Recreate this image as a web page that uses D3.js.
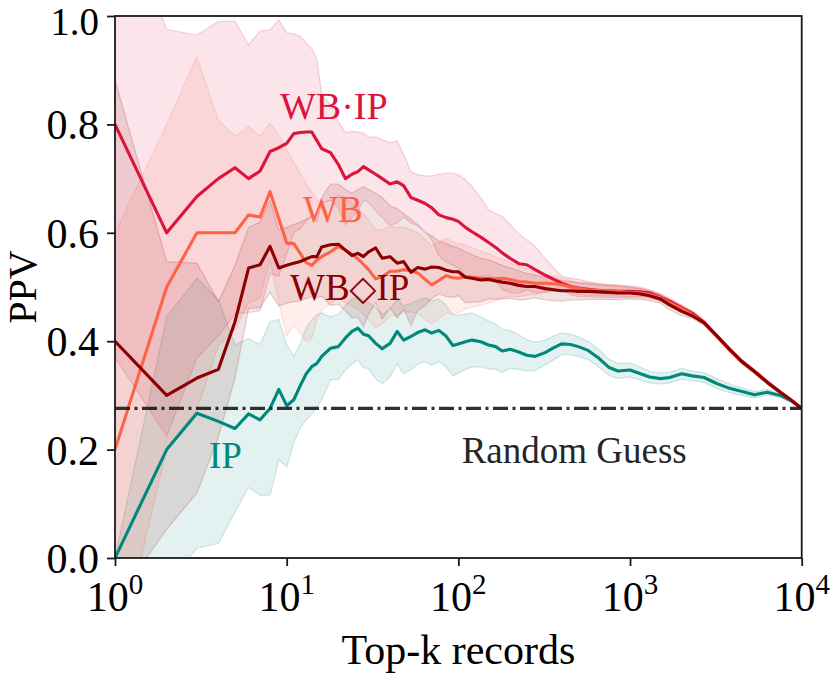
<!DOCTYPE html>
<html><head><meta charset="utf-8">
<script src="https://cdn.jsdelivr.net/npm/d3@7"></script>
<style>
html,body{margin:0;padding:0;background:#fff;}
svg{display:block;}
text{font-family:"Liberation Serif","Times New Roman",serif;}
</style></head><body>
<svg id="chart" width="830" height="682"></svg>
<script>
// ---- data ----
const K = [1,2,3,4,5,6,7,8,9,10,11,12,13,14,15,16,18,20,22,24,26,28,30,33,36,40,44,48,53,58,64,70,77,85,93,100,110,120,135,150,165,180,200,225,250,280,320,360,400,450,500,570,650,750,850,1000,1150,1300,1500,1700,2000,2300,2700,3200,3800,4500,5300,6300,7500,8700,10000];

const wbipMean = [0.80,0.60,0.667,0.70,0.72,0.70,0.714,0.75,0.757,0.765,0.783,0.785,0.786,0.786,0.77,0.755,0.748,0.726,0.70,0.708,0.713,0.722,0.716,0.708,0.70,0.69,0.694,0.687,0.665,0.66,0.654,0.646,0.633,0.628,0.625,0.621,0.61,0.602,0.592,0.582,0.573,0.563,0.553,0.543,0.541,0.532,0.522,0.514,0.507,0.501,0.498,0.496,0.494,0.493,0.492,0.492,0.491,0.489,0.481,0.474,0.462,0.452,0.435,0.41,0.385,0.362,0.345,0.325,0.306,0.291,0.276];
const wbipUpper = [1.23,0.975,0.965,0.99,0.99,0.947,0.972,0.975,0.993,0.969,0.967,0.962,0.95,0.94,0.92,0.855,0.835,0.805,0.785,0.787,0.786,0.784,0.776,0.777,0.772,0.766,0.77,0.745,0.712,0.707,0.705,0.705,0.708,0.71,0.71,0.707,0.698,0.685,0.665,0.642,0.636,0.63,0.616,0.598,0.587,0.575,0.553,0.535,0.52,0.516,0.514,0.51,0.507,0.505,0.504,0.502,0.5,0.495,0.488,0.479,0.467,0.456,0.439,0.414,0.389,0.366,0.348,0.328,0.309,0.293,0.277];
const wbipLower = [0.37,0.225,0.369,0.41,0.45,0.453,0.456,0.525,0.52,0.561,0.6,0.608,0.622,0.632,0.62,0.655,0.66,0.647,0.615,0.629,0.64,0.66,0.656,0.64,0.628,0.614,0.618,0.629,0.618,0.613,0.603,0.587,0.558,0.546,0.54,0.535,0.522,0.519,0.519,0.522,0.51,0.496,0.49,0.488,0.495,0.489,0.491,0.493,0.494,0.486,0.482,0.482,0.481,0.481,0.48,0.482,0.482,0.483,0.474,0.469,0.457,0.448,0.431,0.406,0.381,0.358,0.342,0.322,0.303,0.289,0.275];

const wbMean = [0.20,0.50,0.60,0.60,0.60,0.633,0.629,0.676,0.626,0.581,0.58,0.562,0.545,0.54,0.55,0.556,0.565,0.575,0.568,0.56,0.552,0.542,0.532,0.515,0.519,0.529,0.529,0.532,0.53,0.526,0.514,0.504,0.512,0.521,0.517,0.516,0.519,0.518,0.516,0.516,0.515,0.516,0.514,0.51,0.509,0.507,0.507,0.506,0.504,0.50,0.497,0.495,0.494,0.493,0.492,0.49,0.489,0.486,0.48,0.471,0.46,0.449,0.433,0.409,0.384,0.361,0.344,0.324,0.306,0.291,0.276];
const wbUpper = [0.60,0.80,0.925,0.808,0.778,0.796,0.778,0.802,0.78,0.753,0.73,0.71,0.69,0.675,0.661,0.655,0.66,0.67,0.665,0.655,0.645,0.635,0.625,0.605,0.606,0.612,0.61,0.61,0.606,0.6,0.588,0.576,0.582,0.59,0.584,0.58,0.578,0.573,0.566,0.562,0.555,0.552,0.545,0.538,0.533,0.528,0.524,0.52,0.516,0.512,0.508,0.506,0.504,0.502,0.501,0.499,0.497,0.493,0.486,0.477,0.465,0.454,0.437,0.412,0.387,0.364,0.346,0.326,0.308,0.292,0.277];
const wbLower = [-0.2,0.2,0.275,0.392,0.422,0.47,0.48,0.55,0.472,0.409,0.43,0.414,0.40,0.405,0.439,0.457,0.47,0.48,0.471,0.465,0.459,0.449,0.439,0.425,0.432,0.446,0.448,0.454,0.454,0.452,0.44,0.432,0.442,0.452,0.45,0.452,0.46,0.463,0.466,0.47,0.475,0.48,0.483,0.482,0.485,0.486,0.49,0.492,0.492,0.488,0.486,0.484,0.484,0.484,0.483,0.481,0.481,0.479,0.474,0.465,0.455,0.444,0.429,0.406,0.381,0.358,0.342,0.322,0.304,0.29,0.275];

const wbdMean = [0.40,0.30,0.332,0.348,0.436,0.535,0.541,0.575,0.535,0.54,0.544,0.547,0.552,0.556,0.556,0.574,0.578,0.579,0.568,0.558,0.562,0.556,0.565,0.572,0.553,0.556,0.544,0.547,0.527,0.536,0.533,0.537,0.536,0.531,0.528,0.528,0.518,0.516,0.513,0.514,0.511,0.509,0.507,0.503,0.501,0.501,0.497,0.495,0.493,0.493,0.492,0.492,0.491,0.49,0.489,0.489,0.487,0.484,0.478,0.467,0.455,0.447,0.434,0.41,0.385,0.362,0.344,0.324,0.306,0.291,0.276];
const wbdUpper = [0.882,0.547,0.544,0.473,0.54,0.61,0.62,0.66,0.605,0.61,0.615,0.62,0.625,0.63,0.632,0.665,0.69,0.69,0.68,0.673,0.68,0.685,0.68,0.673,0.665,0.65,0.645,0.635,0.625,0.615,0.6,0.595,0.585,0.58,0.575,0.572,0.565,0.56,0.553,0.55,0.545,0.54,0.535,0.53,0.525,0.522,0.518,0.515,0.512,0.51,0.508,0.507,0.505,0.503,0.502,0.5,0.497,0.493,0.486,0.476,0.463,0.452,0.437,0.413,0.388,0.365,0.347,0.327,0.308,0.292,0.277];
const wbdLower = [-0.082,0.053,0.12,0.223,0.332,0.46,0.462,0.49,0.465,0.47,0.473,0.474,0.479,0.482,0.48,0.483,0.466,0.468,0.456,0.443,0.444,0.427,0.45,0.471,0.441,0.462,0.443,0.459,0.429,0.457,0.466,0.479,0.487,0.482,0.481,0.484,0.471,0.472,0.473,0.478,0.477,0.478,0.479,0.476,0.477,0.48,0.476,0.475,0.474,0.476,0.476,0.477,0.477,0.477,0.476,0.478,0.477,0.475,0.47,0.458,0.447,0.442,0.431,0.407,0.382,0.359,0.341,0.321,0.304,0.29,0.275];

const ipMean = [0.0,0.20,0.267,0.252,0.239,0.266,0.255,0.276,0.311,0.281,0.292,0.318,0.34,0.353,0.359,0.372,0.387,0.39,0.406,0.418,0.424,0.413,0.41,0.396,0.386,0.396,0.418,0.402,0.409,0.416,0.421,0.415,0.42,0.409,0.392,0.395,0.399,0.402,0.399,0.393,0.39,0.382,0.385,0.38,0.374,0.372,0.379,0.388,0.395,0.394,0.39,0.383,0.37,0.352,0.345,0.347,0.34,0.334,0.331,0.333,0.34,0.336,0.333,0.322,0.313,0.307,0.301,0.306,0.30,0.29,0.276];
const ipUpper = [0.0,0.445,0.516,0.477,0.393,0.405,0.394,0.436,0.44,0.394,0.372,0.395,0.425,0.44,0.449,0.452,0.445,0.45,0.465,0.478,0.482,0.475,0.47,0.462,0.45,0.458,0.478,0.465,0.47,0.475,0.48,0.474,0.478,0.466,0.448,0.448,0.45,0.452,0.445,0.437,0.432,0.422,0.42,0.412,0.403,0.398,0.402,0.41,0.415,0.413,0.408,0.40,0.386,0.367,0.359,0.36,0.352,0.345,0.341,0.343,0.35,0.345,0.342,0.331,0.321,0.314,0.307,0.311,0.304,0.293,0.277];
const ipLower = [0.0,-0.045,0.018,0.027,0.085,0.13,0.116,0.116,0.181,0.168,0.212,0.24,0.255,0.266,0.279,0.292,0.329,0.33,0.347,0.358,0.366,0.351,0.35,0.33,0.322,0.334,0.358,0.34,0.348,0.357,0.362,0.356,0.362,0.352,0.336,0.342,0.348,0.352,0.353,0.349,0.348,0.342,0.35,0.348,0.345,0.346,0.356,0.366,0.375,0.375,0.372,0.366,0.354,0.337,0.331,0.334,0.328,0.323,0.321,0.323,0.33,0.327,0.324,0.313,0.305,0.30,0.295,0.301,0.296,0.287,0.275];

const randomGuess = 0.276;
const xTicks = [1,10,100,1000,10000];
const xTickExp = ["0","1","2","3","4"];
const yTicks = [0,0.2,0.4,0.6,0.8,1.0];
const yTickLabels = ["0.0","0.2","0.4","0.6","0.8","1.0"];

// ---- layout ----
const W = 830, H = 682, L = 115, R = 801.7, T = 16, B = 558;
const x = d3.scaleLog().domain([1,10000]).range([L,R]);
const y = d3.scaleLinear().domain([0,1]).range([B,T]);

const series = [
  {name:"IP",    color:"#00897b", mean:ipMean,   lo:ipLower,   hi:ipUpper},
  {name:"WB·IP", color:"#dc143c", mean:wbipMean, lo:wbipLower, hi:wbipUpper},
  {name:"WB",    color:"#ff6347", mean:wbMean,   lo:wbLower,   hi:wbUpper},
  {name:"WB◇IP", color:"#8b0000", mean:wbdMean,  lo:wbdLower,  hi:wbdUpper}
];

const svg = d3.select("#chart");
svg.append("rect").attr("width",W).attr("height",H).attr("fill","#fff");
svg.append("defs").append("clipPath").attr("id","clip")
  .append("rect").attr("x",L).attr("y",T).attr("width",R-L).attr("height",B-T);
const plot = svg.append("g").attr("clip-path","url(#clip)");

const area = d3.area().x(d=>x(d.k)).y0(d=>y(d.lo)).y1(d=>y(d.hi));
const edgeHi = d3.line().x(d=>x(d.k)).y(d=>y(d.hi));
const edgeLo = d3.line().x(d=>x(d.k)).y(d=>y(d.lo));
const meanLine = d3.line().x(d=>x(d.k)).y(d=>y(d.m));

series.forEach(s=>{
  s.rows = K.map((k,i)=>({k:k, m:s.mean[i], lo:s.lo[i], hi:s.hi[i]}));
});

// bands
series.forEach(s=>{
  plot.append("path").datum(s.rows).attr("d",area)
    .attr("fill",s.color).attr("fill-opacity",0.11).attr("stroke","none");
  [edgeHi, edgeLo].forEach(fn=>{
    plot.append("path").datum(s.rows).attr("d",fn)
      .attr("fill","none").attr("stroke",s.color).attr("stroke-opacity",0.18).attr("stroke-width",1.2);
  });
});

// mean lines
series.forEach(s=>{
  plot.append("path").datum(s.rows).attr("d",meanLine)
    .attr("fill","none").attr("stroke",s.color).attr("stroke-width",3.1)
    .attr("stroke-linejoin","round");
});

// random guess
plot.append("line")
  .attr("x1",x(1)).attr("x2",x(10000)).attr("y1",y(randomGuess)).attr("y2",y(randomGuess))
  .attr("stroke","#1a1a1a").attr("stroke-opacity",0.9).attr("stroke-width",3.2)
  .attr("stroke-dasharray","15 4.5 3 4.5");

// axes
const xAxis = d3.axisBottom(x).tickValues(xTicks).tickSize(8).tickFormat(()=> "");
const gx = svg.append("g").attr("transform",`translate(0,${B})`).call(xAxis);
const yAxis = d3.axisLeft(y).tickValues(yTicks).tickSize(8).tickFormat(()=> "");
const gy = svg.append("g").attr("transform",`translate(${L},0)`).call(yAxis);
[gx,gy].forEach(g=>{
  g.select(".domain").remove();
  g.selectAll(".tick line").attr("stroke","#1a1a1a").attr("stroke-width",1.8);
});
// frame
svg.append("rect").attr("x",L).attr("y",T).attr("width",R-L).attr("height",B-T)
  .attr("fill","none").attr("stroke","#1a1a1a").attr("stroke-width",1.8);

// tick labels
xTicks.forEach((t,i)=>{
  const tx = svg.append("text").attr("x",x(t)).attr("y",611)
    .attr("text-anchor","middle").attr("font-size",42).attr("fill","#000");
  tx.append("tspan").text("10");
  tx.append("tspan").attr("dy",-17).attr("font-size",29).text(xTickExp[i]);
});
yTicks.forEach((t,i)=>{
  svg.append("text").attr("x",L-16).attr("y",Math.max(y(t)+15, 35))
    .attr("text-anchor","end").attr("font-size",t===1?39:42).attr("fill","#000").text(yTickLabels[i]);
});

// axis titles
svg.append("text").attr("x",(L+R)/2).attr("y",664).attr("text-anchor","middle")
  .attr("font-size",42).attr("fill","#000").text("Top-k records");
svg.append("text").attr("transform",`translate(36,${(T+B)/2}) rotate(-90)`)
  .attr("text-anchor","middle").attr("font-size",40).attr("fill","#000").text("PPV");

// series labels
svg.append("text").attr("x",280).attr("y",119.3).attr("font-size",38).attr("fill","#dc143c").text("WB·IP");
svg.append("text").attr("x",303).attr("y",221.7).attr("font-size",37).attr("fill","#ff6347").text("WB");
const d = svg.append("text").attr("x",290).attr("y",300).attr("font-size",37).attr("fill","#8b0000");
d.append("tspan").text("WB");
d.append("tspan").attr("font-family","DejaVu Sans").attr("font-size",35).text("◇");
d.append("tspan").text("IP");
svg.append("text").attr("x",209).attr("y",468.3).attr("font-size",37).attr("fill","#00897b").text("IP");
svg.append("text").attr("x",461.7).attr("y",463.3).attr("font-size",37).attr("fill","#262626").text("Random Guess");
</script>
</body></html>
